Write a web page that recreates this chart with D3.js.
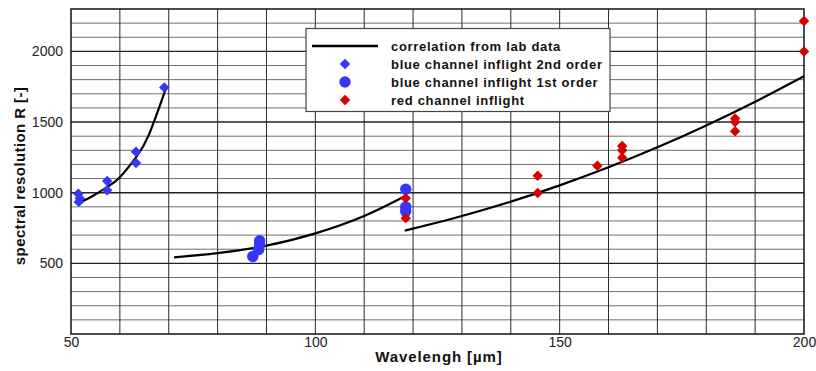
<!DOCTYPE html>
<html><head><meta charset="utf-8">
<script src="https://cdn.jsdelivr.net/npm/d3@7"></script>
<style>body{margin:0;background:#fff}svg{display:block;font-family:"Liberation Sans",Arial,sans-serif}</style>
</head><body><svg id="c" width="816" height="371"></svg>
<script>
// Data
const xTicks = [50, 100, 150, 200];
const yTicks = [500, 1000, 1500, 2000];
const labBlue2 = [[51, 922], [54, 968], [57.4, 1040], [60, 1110], [63.3, 1250], [66, 1415], [69.5, 1745]];
const labBlue1 = [[71.1, 542], [80, 572], [90, 625], [100, 712], [110, 835], [118.5, 978]];
const labRed = [[118.3, 732], [125, 789], [130, 835], [140, 937], [150, 1052], [160, 1180], [170, 1321], [180, 1476], [190, 1644], [200, 1825]];
const blue2nd = [[51.5, 992], [51.8, 960], [51.6, 935], [57.4, 1082], [57.4, 1018], [63.3, 1290], [63.3, 1210], [69.1, 1745]];
const blue1st = [[88.6, 660], [88.6, 628], [88.4, 598], [87.2, 548], [118.5, 1025], [118.5, 900], [118.5, 868]];
const redInflight = [[118.5, 960], [118.5, 820], [145.5, 1120], [145.5, 998], [157.7, 1190], [162.8, 1330], [162.8, 1300], [162.8, 1248], [185.9, 1525], [185.9, 1500], [185.9, 1435], [200, 2215], [200, 2000]];
const legendLabels = ["correlation from lab data", "blue channel inflight 2nd order", "blue channel inflight 1st order", "red channel inflight"];

const svg = d3.select("#c");
const x = d3.scaleLinear().domain([50, 200]).range([71, 804]);
const y = d3.scaleLinear().domain([0, 2300]).range([334, 9]);

const g = svg.append("g");
// horizontal grid
d3.range(100, 2300, 100).forEach(v => {
  const major = v % 500 === 0;
  g.append("line").attr("x1", x(50)).attr("x2", x(200)).attr("y1", y(v)).attr("y2", y(v))
    .attr("stroke", major ? "#222" : "#6e6e6e").attr("stroke-width", major ? 1.4 : 1);
});
// vertical grid
d3.range(60, 200, 10).forEach(v => {
  g.append("line").attr("x1", x(v)).attr("x2", x(v)).attr("y1", y(0)).attr("y2", y(2300))
    .attr("stroke", "#2a2a2a").attr("stroke-width", 1);
});
// border
g.append("rect").attr("x", x(50)).attr("y", y(2300)).attr("width", x(200) - x(50)).attr("height", y(0) - y(2300))
  .attr("fill", "none").attr("stroke", "#111").attr("stroke-width", 1.5);

// axes tick labels
const xa = svg.append("g").attr("transform", `translate(0,${y(0)})`)
  .call(d3.axisBottom(x).tickValues(xTicks).tickSize(0).tickPadding(3).tickFormat(d3.format("d")));
xa.select(".domain").remove();
xa.selectAll("text").attr("font-size", 14).attr("fill", "#222").attr("font-family", "Liberation Sans, Arial, sans-serif");
const ya = svg.append("g").attr("transform", `translate(${x(50)},0)`)
  .call(d3.axisLeft(y).tickValues(yTicks).tickSize(0).tickPadding(8).tickFormat(d3.format("d")));
ya.select(".domain").remove();
ya.selectAll("text").attr("font-size", 14).attr("fill", "#222").attr("font-family", "Liberation Sans, Arial, sans-serif");

// axis titles
svg.append("text").attr("x", 439).attr("y", 362).attr("text-anchor", "middle").attr("letter-spacing", 0.9)
  .attr("font-size", 15).attr("font-weight", "bold").attr("fill", "#111").text("Wavelengh [µm]");
svg.append("text").attr("transform", "translate(25,176) rotate(-90)").attr("text-anchor", "middle").attr("letter-spacing", 0.4)
  .attr("font-size", 15).attr("font-weight", "bold").attr("fill", "#111").text("spectral resolution R [-]");

// curves
const line = d3.line().x(d => x(d[0])).y(d => y(d[1])).curve(d3.curveNatural);
[labBlue2, labBlue1, labRed].forEach(c => {
  svg.append("path").attr("d", line(c)).attr("fill", "none").attr("stroke", "#000").attr("stroke-width", 2.2);
});

const blue = "#3536f7", red = "#d90000";
function diamonds(data, color) {
  svg.append("g").selectAll("path").data(data).join("path")
    .attr("d", d3.symbol().type(d3.symbolSquare).size(55))
    .attr("transform", d => `translate(${x(d[0])},${y(d[1])}) rotate(45)`)
    .attr("fill", color);
}
diamonds(blue2nd, blue);
svg.append("g").selectAll("circle").data(blue1st).join("circle")
  .attr("cx", d => x(d[0])).attr("cy", d => y(d[1])).attr("r", 5.7).attr("fill", blue);
diamonds(redInflight, red);

// legend
const lg = svg.append("g");
lg.append("rect").attr("x", 306).attr("y", 28.5).attr("width", 304).attr("height", 83)
  .attr("fill", "#fff").attr("stroke", "#444").attr("stroke-width", 1.2);
const rows = [46, 64, 82, 100];
lg.append("line").attr("x1", 312).attr("x2", 378).attr("y1", rows[0]).attr("y2", rows[0]).attr("stroke", "#000").attr("stroke-width", 2.5);
lg.append("path").attr("d", d3.symbol().type(d3.symbolSquare).size(55)).attr("transform", `translate(345,${rows[1]}) rotate(45)`).attr("fill", blue);
lg.append("circle").attr("cx", 345).attr("cy", rows[2]).attr("r", 5.7).attr("fill", blue);
lg.append("path").attr("d", d3.symbol().type(d3.symbolSquare).size(55)).attr("transform", `translate(345,${rows[3]}) rotate(45)`).attr("fill", red);
legendLabels.forEach((t, i) => {
  lg.append("text").attr("x", 391).attr("y", rows[i]).attr("dy", "0.35em").attr("letter-spacing", 0.7)
    .attr("font-size", 13).attr("font-weight", "bold").attr("fill", "#111").text(t);
});
</script></body></html>
